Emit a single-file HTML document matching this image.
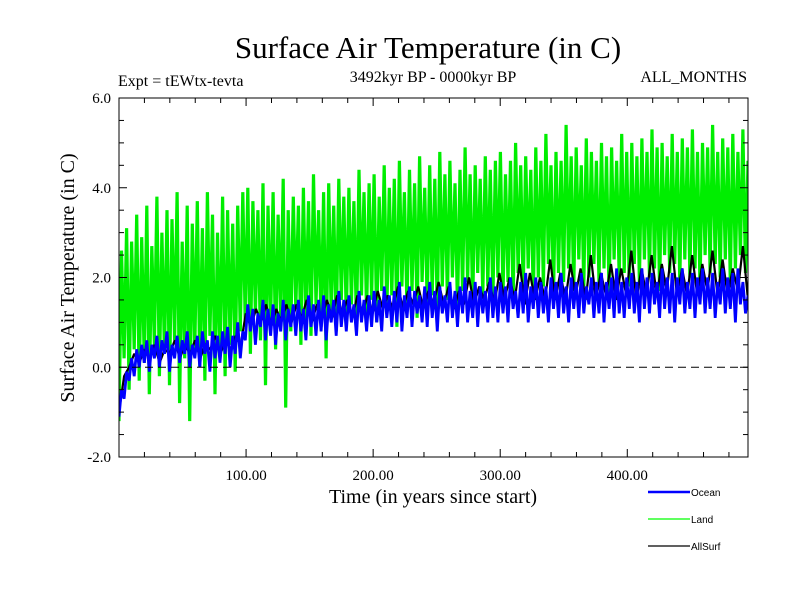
<!DOCTYPE html>
<html><head><meta charset="utf-8"><style>
body{margin:0;background:#fff;}
svg{display:block;font-family:"Liberation Serif",serif;}
</style></head><body>
<svg id="chart" width="800" height="600" xmlns="http://www.w3.org/2000/svg">
<rect width="800" height="600" fill="#fff"/>
<text x="428" y="58" font-size="31" text-anchor="middle">Surface Air Temperature (in C)</text>
<text x="118" y="86" font-size="16">Expt = tEWtx-tevta</text>
<text x="433" y="82" font-size="16" text-anchor="middle">3492kyr BP - 0000kyr BP</text>
<text x="747" y="82" font-size="16" text-anchor="end">ALL_MONTHS</text>
<clipPath id="clip"><rect x="119" y="98" width="629" height="359"/></clipPath>
<g id="series" clip-path="url(#clip)"></g>
<g id="axes"></g>
<text x="433" y="503" font-size="20" text-anchor="middle">Time (in years since start)</text>
<text transform="translate(74,278) rotate(-90)" font-size="20" text-anchor="middle">Surface Air Temperature (in C)</text>
<g font-family="Liberation Sans, sans-serif" font-size="10">
<g><line x1="648" y1="492" x2="690" y2="492" stroke="#0000ff" stroke-width="2.5"/><text x="691" y="496">Ocean</text></g>
<g><line x1="648" y1="519" x2="690" y2="519" stroke="#00ff00" stroke-width="1.2"/><text x="691" y="523">Land</text></g>
<g><line x1="648" y1="546" x2="690" y2="546" stroke="#000" stroke-width="1.2"/><text x="691" y="550">AllSurf</text></g>
</g>
</svg>
<script>
const land=[-1.2,2.6,0.2,3.1,-0.5,2.8,0.4,3.4,-0.3,2.9,0.1,3.6,-0.6,2.7,0.5,3.8,-0.2,3.0,0.3,3.5,
-0.4,3.3,0.6,3.9,-0.8,2.8,0.2,3.6,-1.2,3.2,0.4,3.7,0.0,3.1,-0.3,3.9,0.7,3.4,-0.6,3.0,
0.3,3.8,-0.2,3.5,0.5,3.2,-0.1,3.6,0.8,3.9,
0.9,4.0,0.3,3.7,1.2,3.5,0.6,4.1,-0.4,3.6,1.0,3.9,0.4,3.4,1.1,4.2,-0.9,3.5,0.8,3.8,1.3,3.6,0.5,4.0,1.0,3.7,0.7,4.3,1.4,3.5,0.9,3.9,0.2,4.1,1.2,3.6,0.8,4.2,1.5,3.8,1.1,4.0,1.4,3.7,0.9,4.4,1.6,3.9,1.2,4.1,
1.5,4.3,1.0,3.8,1.7,4.5,1.2,4.0,1.6,4.2,0.9,4.6,1.8,3.9,1.3,4.4,1.7,4.1,1.1,4.7,1.9,4.0,1.4,4.5,1.6,4.2,1.2,4.8,1.8,4.3,1.5,4.6,2.0,4.1,1.3,4.4,1.7,4.9,1.9,4.3,1.4,4.5,2.1,4.2,1.6,4.7,1.8,4.4,1.5,4.6,
2.0,4.8,1.6,4.3,1.9,4.6,1.4,5.0,2.1,4.5,1.7,4.7,2.2,4.4,1.5,4.9,2.0,4.6,1.8,5.2,2.3,4.5,1.6,4.8,2.1,4.6,1.9,5.4,2.2,4.7,1.7,4.9,2.4,4.5,1.8,5.1,2.0,4.8,2.3,4.6,1.9,5.0,2.2,4.7,1.6,4.9,2.4,4.6,2.0,5.2,
2.1,4.8,1.8,5.0,2.3,4.7,1.9,5.1,2.4,4.8,2.0,5.3,2.2,4.9,1.7,5.0,2.5,4.7,2.1,5.2,2.3,4.8,1.9,5.1,2.4,4.9,2.0,5.3,2.2,4.8,1.8,5.0,2.5,4.9,2.1,5.4,2.3,4.8,2.0,5.1,2.4,4.9,1.9,5.2,2.2,4.8,2.5,5.3,2.1,4.6];
const ocean=[-1.1,-0.5,-0.7,-0.1,-0.3,0.2,-0.2,0.4,0.0,0.5,
0.1,0.6,-0.1,0.5,0.2,0.7,0.0,0.6,0.3,0.8,-0.1,0.5,0.2,0.7,0.1,0.6,0.3,0.8,0.0,0.5,0.2,0.7,0.0,0.8,0.3,0.6,-0.1,0.8,0.2,0.7,0.1,0.8,0.3,0.9,0.0,0.7,0.3,1.0,0.2,0.8,
0.6,1.4,0.8,1.3,0.5,1.2,0.9,1.5,0.6,1.3,0.7,1.4,0.5,1.2,0.8,1.5,0.6,1.3,0.9,1.4,0.7,1.5,0.8,1.3,0.6,1.6,0.9,1.4,0.7,1.5,0.8,1.6,0.6,1.4,1.0,1.5,0.7,1.7,0.9,1.5,0.8,1.6,1.0,1.4,0.7,1.7,1.0,1.5,0.8,1.6,
0.9,1.7,1.0,1.5,0.8,1.8,1.1,1.6,0.9,1.7,1.0,1.9,0.8,1.6,1.1,1.8,0.9,1.7,1.2,1.6,1.0,1.8,0.9,1.9,1.1,1.7,0.8,1.8,1.2,1.6,1.0,1.9,1.1,1.7,0.9,1.8,1.2,2.0,1.0,1.7,1.1,1.9,0.9,1.8,1.2,1.7,1.0,2.0,1.1,1.8,
1.0,1.9,1.2,1.8,1.0,2.0,1.3,1.7,1.1,1.9,1.2,2.1,1.0,1.8,1.3,2.0,1.1,1.9,1.2,1.8,1.0,2.0,1.3,1.9,1.1,2.1,1.2,1.8,1.0,2.0,1.3,1.9,1.1,2.1,1.2,1.8,1.4,2.0,1.1,1.9,1.2,2.1,1.0,1.9,1.3,2.0,1.1,2.2,1.2,1.9,
1.1,2.0,1.3,2.1,1.2,1.9,1.0,2.2,1.3,2.0,1.2,2.1,1.4,1.9,1.1,2.2,1.3,2.0,1.2,2.1,1.0,2.0,1.4,2.2,1.2,1.9,1.3,2.1,1.1,2.0,1.4,2.2,1.2,2.0,1.3,2.1,1.1,1.9,1.4,2.2,1.2,2.0,1.3,2.1,1.0,2.2,1.4,1.9,1.2,1.6];
const allsurf=[-1.0,-0.2,0.0,0.3,0.1,0.4,0.2,0.5,0.1,0.4,0.3,0.6,0.2,0.5,0.3,0.6,0.2,0.5,0.4,0.7,0.3,0.6,0.4,0.7,0.5,
1.2,0.9,1.3,1.0,1.4,0.9,1.3,1.0,1.4,1.0,1.4,1.1,1.5,1.0,1.4,1.1,1.5,1.1,1.6,1.2,1.5,1.1,1.6,1.2,1.6,
1.2,1.7,1.3,1.6,1.3,1.8,1.3,1.7,1.4,1.8,1.3,1.7,1.4,1.9,1.4,1.8,1.3,1.7,1.4,2.0,1.4,1.8,1.5,1.9,1.4,
2.1,1.5,2.0,1.5,2.3,1.4,2.1,1.5,2.0,1.5,2.4,1.5,2.1,1.5,2.3,1.6,2.2,1.5,2.5,1.5,2.1,1.6,2.3,1.5,2.2,
1.6,2.6,1.5,2.2,1.6,2.5,1.6,2.3,1.7,2.7,1.6,2.2,1.6,2.5,1.6,2.3,1.7,2.6,1.6,2.4,1.6,2.2,1.7,2.7,1.5];
const yTicks=[-2,0,2,4,6];
const yTickLabels=["-2.0","0.0","2.0","4.0","6.0"];
const xTicks=[100,200,300,400];
const xTickLabels=["100.00","200.00","300.00","400.00"];
const X0=119,X1=748,Y0=98,Y1=457,XMAX=495,YMIN=-2,YMAX=6;
const NS="http://www.w3.org/2000/svg";
const xs=v=>X0+(v/XMAX)*(X1-X0);
const ys=v=>Y1-(v-YMIN)/(YMAX-YMIN)*(Y1-Y0);
function mk(tag,attrs,parent){const e=document.createElementNS(NS,tag);for(const k in attrs)e.setAttribute(k,attrs[k]);parent.appendChild(e);return e;}
const sg=document.getElementById('series');
function line(data,step,color,w,name){
  const pts=data.map((v,i)=>xs(Math.min(i*step,XMAX)).toFixed(1)+','+ys(v).toFixed(1)).join(' ');
  const p=mk('polyline',{points:pts,fill:'none',stroke:color,'stroke-width':w,'stroke-linejoin':'miter','stroke-miterlimit':2},sg);
  
  
}
line(land,XMAX/(land.length-1),'#00ee00',3.2,'land-series');
line(allsurf,XMAX/(allsurf.length-1),'#000000',2.2,'allsurf-series');
line(ocean,XMAX/(ocean.length-1),'#0000ff',2.8,'ocean-series');
const ax=document.getElementById('axes');
const zl=mk('line',{x1:X0,x2:X1,y1:ys(0),y2:ys(0),stroke:'#000','stroke-dasharray':'8,5','stroke-width':1},ax);


const fr=mk('rect',{x:X0,y:Y0,width:X1-X0,height:Y1-Y0,fill:'none',stroke:'#000','stroke-width':1},ax);


for(let t=20;t<XMAX;t+=20){const big=t%100===0;const L=big?8:5;
  mk('line',{x1:xs(t),x2:xs(t),y1:Y1,y2:Y1-L,stroke:'#000'},ax);
  mk('line',{x1:xs(t),x2:xs(t),y1:Y0,y2:Y0+L,stroke:'#000'},ax);}
for(let v=-1.5;v<6;v+=0.5){const big=Math.abs(v%2)<1e-9;const L=big?8:5;
  mk('line',{x1:X0,x2:X0+L,y1:ys(v),y2:ys(v),stroke:'#000'},ax);
  mk('line',{x1:X1,x2:X1-L,y1:ys(v),y2:ys(v),stroke:'#000'},ax);}
yTicks.forEach((v,i)=>{const t=mk('text',{x:X0-8,y:ys(v)+5,'font-size':15,'text-anchor':'end'},ax);t.textContent=yTickLabels[i];
  
  });
xTicks.forEach((v,i)=>{const t=mk('text',{x:xs(v),y:Y1+23,'font-size':15,'text-anchor':'middle'},ax);t.textContent=xTickLabels[i];
  
  });
</script>
</body></html>
